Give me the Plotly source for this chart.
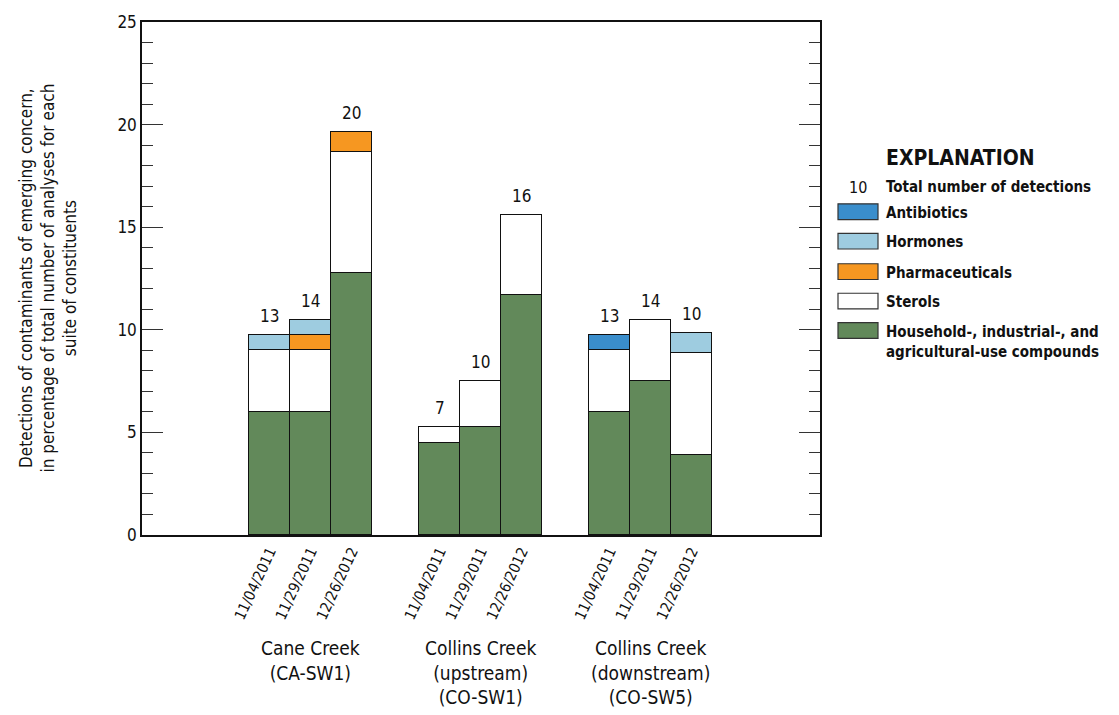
import plotly.graph_objects as go

sites = ["Cane Creek<br>(CA-SW1)",
         "Collins Creek<br>(upstream)<br>(CO-SW1)",
         "Collins Creek<br>(downstream)<br>(CO-SW5)"]
dates = ["11/04/2011", "11/29/2011", "12/26/2012"]

household = [6.0, 6.0, 12.75, 4.5, 5.25, 11.7, 6.0, 7.5, 3.9]
sterols = [3.0, 3.0, 5.9, 0.75, 2.25, 3.9, 3.0, 3.0, 4.95]
pharmaceuticals = [None, 0.75, 1.0, None, None, None, None, None, None]
hormones = [0.75, 0.75, None, None, None, None, None, None, 0.98]
antibiotics = [None, None, None, None, None, None, 0.75, None, None]
totals = [13, 14, 20, 7, 10, 16, 13, 14, 10]

FONT = "DejaVu Sans Condensed, Liberation Sans Narrow, sans-serif"
GREEN = "#62895A"
WHITE = "#FFFFFF"
ORANGE = "#F69721"
LIGHTBLUE = "#9ECCE0"
BLUE = "#3A8ECC"
GROUP_STEP = 4.15

xpos = []
xlabels = []
for gi, s in enumerate(sites):
    for bi, d in enumerate(dates):
        xpos.append(gi * GROUP_STEP + bi)
        xlabels.append(d)

fig = go.Figure()
series = [
    ("Household-, industrial-, and agricultural-use compounds", household, GREEN),
    ("Sterols", sterols, WHITE),
    ("Pharmaceuticals", pharmaceuticals, ORANGE),
    ("Hormones", hormones, LIGHTBLUE),
    ("Antibiotics", antibiotics, BLUE),
]
for name, vals, col in series:
    fig.add_trace(go.Bar(x=xpos, y=vals, name=name, width=1,
                         marker=dict(color=col, line=dict(color="#111111", width=1.5)),
                         showlegend=False))

tops = []
for i in range(len(xpos)):
    t = 0
    for _, vals, _ in series:
        if vals[i] is not None:
            t += vals[i]
    tops.append(t)

for xv, tv, lab in zip(xpos, tops, totals):
    fig.add_annotation(x=xv, y=tv, xref="x", yref="y", text=str(lab), showarrow=False,
                       xanchor="center", yanchor="bottom", yshift=7,
                       font=dict(family=FONT, size=17, color="#111111"))

fig.update_layout(
    barmode="stack", bargap=0,
    width=1119, height=715,
    margin=dict(l=142, r=299, t=13, b=180),
    paper_bgcolor="white", plot_bgcolor="white",
    font=dict(family=FONT, size=17, color="#111111"),
    showlegend=False,
)
fig.update_xaxes(
    range=[-3.11, 2 * GROUP_STEP + 2.5 + 2.63],
    tickvals=xpos, ticktext=xlabels, tickangle=-65,
    ticks="", showgrid=False, zeroline=False,
    showline=True, linecolor="#111111", linewidth=1.8, mirror=True,
    tickfont=dict(family=FONT, size=15, color="#111111"),
)
fig.update_yaxes(
    range=[0, 25], dtick=5, ticks="inside", ticklen=21, tickwidth=1.3, tickcolor="#333333",
    minor=dict(dtick=1, ticks="inside", ticklen=11, tickwidth=1.3, tickcolor="#333333"),
    showgrid=False, zeroline=False,
    showline=True, linecolor="#111111", linewidth=1.5, mirror="ticks",
    tickfont=dict(family=FONT, size=17, color="#111111"),
)

# Group labels
for gi, s in enumerate(sites):
    fig.add_annotation(x=gi * GROUP_STEP + 1, y=-0.195, xref="x", yref="paper",
                       text=s, showarrow=False, xanchor="center", yanchor="top",
                       font=dict(family=FONT, size=19, color="#111111"))

# Y axis title
fig.add_annotation(x=-0.14, y=0.5, xref="paper", yref="paper", textangle=-90,
                   text="Detections of contaminants of emerging concern,<br>"
                        "in percentage of total number of analyses for each<br>"
                        "suite of constituents",
                   showarrow=False, xanchor="center", yanchor="middle",
                   font=dict(family=FONT, size=17, color="#111111"))

# Custom legend (explanation)
def px_x(p):
    return (p - 142) / 678

def px_y(p):
    return (535 - p) / 522

fig.add_annotation(x=px_x(884), y=px_y(151), xref="paper", yref="paper",
                   text="<b>EXPLANATION</b>", showarrow=False, xanchor="left", yanchor="middle",
                   font=dict(family=FONT, size=21, color="#111111"))
fig.add_annotation(x=px_x(858), y=px_y(181), xref="paper", yref="paper",
                   text="10", showarrow=False, xanchor="center", yanchor="middle",
                   font=dict(family=FONT, size=16, color="#111111"))
fig.add_annotation(x=px_x(884), y=px_y(181), xref="paper", yref="paper",
                   text="<b>Total number of detections</b>", showarrow=False,
                   xanchor="left", yanchor="middle",
                   font=dict(family=FONT, size=15, color="#111111"))

legend_items = [("Antibiotics", BLUE, 206), ("Hormones", LIGHTBLUE, 236),
                ("Pharmaceuticals", ORANGE, 267), ("Sterols", WHITE, 297),
                ("Household-, industrial-, and<br>agricultural-use compounds", GREEN, 327)]
for label, col, yc in legend_items:
    fig.add_shape(type="rect", xref="paper", yref="paper",
                  x0=px_x(838), x1=px_x(878), y0=px_y(yc - 8), y1=px_y(yc + 8),
                  fillcolor=col, line=dict(color="#333333", width=1.2))
    fig.add_annotation(x=px_x(884), y=px_y(yc - 10), xref="paper", yref="paper",
                       text="<b>" + label + "</b>", showarrow=False,
                       xanchor="left", yanchor="top", align="left",
                       font=dict(family=FONT, size=15, color="#111111"))

fig.write_html("out.html")
